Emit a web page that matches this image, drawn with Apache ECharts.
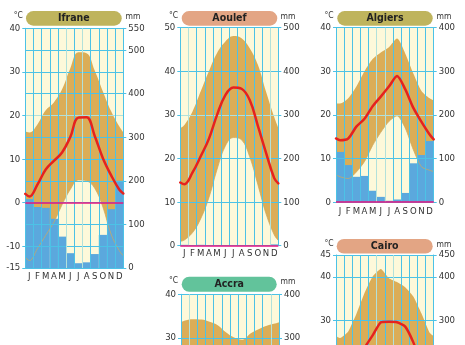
<!DOCTYPE html>
<html>
<head>
<meta charset="utf-8">
<script src="https://cdn.jsdelivr.net/npm/echarts@6/dist/echarts.min.js"></script>
<style>
  html, body { margin: 0; padding: 0; background: #ffffff; }
  #chart { width: 465px; height: 345px; }
</style>
</head>
<body>
<div id="chart"></div>
<script>
// Month initials along the bottom of each diagram
const months = ['J', 'F', 'M', 'A', 'M', 'J', 'J', 'A', 'S', 'O', 'N', 'D'];
// Position of each curve sample in the year: 0 = start of January, 12 = end of December,
// the inner values are the month centres
const yearPos = [0, 0.5, 1.5, 2.5, 3.5, 4.5, 5.5, 6.5, 7.5, 8.5, 9.5, 10.5, 11.5, 12];

// Ifrane — temperatures in °C, precipitation in mm
const ifraneMean = [2.0, 1.4, 4.2, 7.6, 9.6, 11.5, 15.0, 19.5, 19.6, 15.3, 10.2, 6.3, 3.0, 2.1];
const ifraneHigh = [16.4, 16.1, 18.0, 21.2, 23.0, 26.0, 30.8, 34.5, 34.3, 30.3, 25.5, 21.0, 17.5, 16.1];
const ifraneLow = [-12.5, -13.3, -10.5, -7.5, -4.5, -0.5, 3.0, 5.2, 5.0, 3.3, -1.0, -7.2, -11.0, -12.2];
const ifranePrec = [158, 140, 138, 113, 72, 34, 11, 13, 32, 76, 135, 200];
const ifraneTempTicks = [-15, -10, 0, 10, 20, 30, 40];
const ifranePrecTicks = [0, 100, 200, 300, 400, 500, 550];

// Aoulef
const aoulefMean = [14.5, 14.1, 16.8, 20.5, 24.5, 30.0, 34.5, 36.3, 36.0, 33.4, 27.5, 21.3, 15.5, 14.3];
const aoulefHigh = [27.0, 27.7, 30.8, 35.4, 40.0, 44.2, 46.8, 48.1, 47.6, 45.3, 41.5, 35.3, 29.5, 27.0];
const aoulefLow = [1.0, 1.3, 3.0, 6.2, 11.0, 17.5, 22.8, 24.8, 24.3, 20.4, 14.0, 7.3, 2.5, 1.2];
const aoulefPrec = [2, 1, 2, 1, 0.5, 0.2, 0.2, 0.5, 0.5, 1, 1, 3];
const aoulefTempTicks = [0, 10, 20, 30, 40, 50];
const aoulefPrecTicks = [0, 100, 200, 300, 400, 500];

// Algiers
const algiersMean = [14.6, 14.2, 14.6, 17.3, 19.1, 22.0, 24.2, 26.5, 28.9, 25.9, 21.6, 18.4, 15.5, 14.4];
const algiersHigh = [22.6, 22.6, 23.8, 26.5, 30.0, 32.8, 34.3, 35.5, 37.5, 34.1, 29.5, 25.5, 23.8, 23.3];
const algiersLow = [6.3, 5.8, 5.4, 6.9, 9.3, 13.0, 16.0, 18.5, 19.8, 17.0, 12.0, 8.1, 7.3, 7.0];
const algiersPrec = [115, 85, 58, 60, 26, 12, 3, 6, 21, 89, 108, 140];
const algiersTempTicks = [0, 10, 20, 30, 40];
const algiersPrecTicks = [0, 100, 200, 300, 400];

// Accra
const accraHigh = [33.6, 34.0, 34.3, 34.2, 33.7, 32.9, 31.3, 30.1, 29.6, 31.0, 32.0, 32.8, 33.3, 33.6];
const accraTempTicks = [0, 10, 20, 30, 40];
const accraPrecTicks = [0, 100, 200, 300, 400];

// Cairo
const cairoMean = [14.0, 13.8, 15.0, 18.0, 23.7, 26.6, 29.6, 29.7, 29.6, 28.6, 25.0, 20.0, 16.0, 14.2];
const cairoHigh = [26.4, 26.0, 27.5, 31.5, 36.3, 40.1, 41.8, 39.7, 38.8, 37.6, 35.5, 31.6, 27.2, 26.4];
const cairoTempTicks = [0, 10, 20, 30, 40, 45];
const cairoPrecTicks = [0, 100, 200, 300, 400, 450];

const FONT = "'Liberation Sans Narrow', 'DejaVu Sans Condensed', 'Liberation Sans', sans-serif";
const COL = {
  cream: '#fdf9da',
  tan: '#dbad57',
  blue: '#5ba8dd',
  grid: '#4cc2e6',
  pale: '#b2e1da',
  red: '#e5221f',
  magenta: '#e4157f',
  text: '#333333',
  olive: '#bfb45d',
  salmon: '#e3a584',
  green: '#62c39b'
};

const panels = [
  { name: 'Ifrane', badge: COL.olive, left: 25.3, top: 28.3, width: 98, height: 239.7,
    tMin: -15, tMax: 40, tStep: 5, precAtZero: 150,
    tTicks: ifraneTempTicks, pTicks: ifranePrecTicks, paleCols: [5, 7], paleTemp: 20,
    mean: ifraneMean, high: ifraneHigh, low: ifraneLow, prec: ifranePrec, smooth: 0.4,
    showMonths: true, monthMargin: 4 },
  { name: 'Aoulef', badge: COL.salmon, left: 180.3, top: 27.7, width: 98, height: 218,
    tMin: 0, tMax: 50, tStep: 10, precAtZero: 0,
    tTicks: aoulefTempTicks, pTicks: aoulefPrecTicks, paleCols: [1, 11], paleTemp: 30,
    mean: aoulefMean, high: aoulefHigh, low: aoulefLow, prec: aoulefPrec, smooth: 0.4,
    showMonths: true, monthMargin: 3 },
  { name: 'Algiers', badge: COL.olive, left: 336, top: 27.7, width: 97.7, height: 174.4,
    tMin: 0, tMax: 40, tStep: 10, precAtZero: 0,
    tTicks: algiersTempTicks, pTicks: algiersPrecTicks, paleCols: [5, 6], paleTemp: 20,
    mean: algiersMean, high: algiersHigh, low: algiersLow, prec: algiersPrec, smooth: 0.25,
    showMonths: true, monthMargin: 4 },
  { name: 'Accra', badge: COL.green, left: 181, top: 294.3, width: 98, height: 174.4,
    tMin: 0, tMax: 40, tStep: 10, precAtZero: 0,
    tTicks: accraTempTicks, pTicks: accraPrecTicks, paleCols: [1, 11],
    high: accraHigh, smooth: 0.4, showMonths: false },
  { name: 'Cairo', badge: COL.salmon, left: 336, top: 255, width: 97.7, height: 196.6,
    tMin: 0, tMax: 45, tStep: 5, precAtZero: 0,
    tTicks: cairoTempTicks, pTicks: cairoPrecTicks, paleCols: [5, 7],
    mean: cairoMean, high: cairoHigh, smooth: 0.15, showMonths: false }
];

const pairs = vals => vals.map((v, k) => [yearPos[k], v]);

const grids = [], xAxes = [], yAxes = [], series = [], graphics = [];

panels.forEach((p, i) => {
  grids.push({ left: p.left, top: p.top, width: p.width, height: p.height,
    outerBoundsMode: 'none', containLabel: false,
    show: true, backgroundColor: COL.cream, borderWidth: 0 });

  const labelStyle = { color: COL.text, fontSize: 9.5, fontFamily: FONT };

  // vertical rules at the 13 month boundaries, a few drawn in a paler tint
  const colColors = months.concat(['']).map((m, k) => (p.paleCols.indexOf(k) >= 0 ? COL.pale : COL.grid));
  // horizontal rules at the labelled temperatures
  const rowColors = p.tTicks.map(t => (t === p.paleTemp ? COL.pale : COL.grid));

  // month bands: bars, labels and vertical rules
  xAxes.push({ type: 'category', gridIndex: i, data: months, boundaryGap: true, z: 4,
    axisLine: { show: false }, axisTick: { show: false },
    axisLabel: Object.assign({ show: !!p.showMonths, interval: 0, margin: p.monthMargin || 4 }, labelStyle),
    splitLine: { show: true, interval: 0, lineStyle: { color: colColors, width: 1 } } });
  // continuous year axis for the curves
  xAxes.push({ type: 'value', gridIndex: i, min: 0, max: 12, show: false });

  const pMin = p.tMin * 10 + p.precAtZero;
  const pMax = p.tMax * 10 + p.precAtZero;

  yAxes.push({ type: 'value', gridIndex: i, position: 'left', min: p.tMin, max: p.tMax, interval: p.tStep, z: 4,
    axisLine: { show: true, lineStyle: { color: COL.grid, width: 1 } },
    axisTick: { show: true, length: 3, customValues: p.tTicks, lineStyle: { color: COL.grid } },
    axisLabel: Object.assign({ customValues: p.tTicks, margin: 5 }, labelStyle),
    splitLine: { show: true, lineStyle: { color: rowColors, width: 1 } } });
  yAxes.push({ type: 'value', gridIndex: i, position: 'right', min: pMin, max: pMax, interval: p.tStep * 10, z: 4,
    axisLine: { show: true, lineStyle: { color: COL.grid, width: 1 } },
    axisTick: { show: true, length: 3, customValues: p.pTicks, lineStyle: { color: COL.grid } },
    axisLabel: Object.assign({ customValues: p.pTicks, margin: 5 }, labelStyle),
    splitLine: { show: p.precAtZero !== 0, lineStyle: { color: COL.grid, width: 1 } } });

  const xCat = 2 * i, xVal = 2 * i + 1, yT = 2 * i, yP = 2 * i + 1;

  // temperature range band: tan under the high curve, cream under the low curve
  series.push({ type: 'line', name: p.name + ' high', xAxisIndex: xVal, yAxisIndex: yT,
    data: pairs(p.high), smooth: p.smooth, symbol: 'none', silent: true, z: 1,
    lineStyle: { width: 0 }, areaStyle: { color: COL.tan, opacity: 1, origin: 'start' } });
  if (p.low) {
    series.push({ type: 'line', name: p.name + ' low', xAxisIndex: xVal, yAxisIndex: yT,
      data: pairs(p.low), smooth: p.smooth, symbol: 'none', silent: true, z: 1,
      lineStyle: { width: 0 }, areaStyle: { color: COL.cream, opacity: 1, origin: 'start' } });
  }
  if (p.prec) {
    series.push({ type: 'bar', name: p.name + ' precipitation', xAxisIndex: xCat, yAxisIndex: yP,
      data: p.prec, barCategoryGap: '0%', barGap: '0%', silent: true, z: 2,
      itemStyle: { color: COL.blue } });
  }
  if (p.low && p.prec) {
    series.push({ type: 'line', name: p.name + ' low edge', xAxisIndex: xVal, yAxisIndex: yT,
      data: pairs(p.low), smooth: p.smooth, symbol: 'none', silent: true, z: 3,
      lineStyle: { width: 1, color: 'rgba(205,170,95,0.75)' } });
  }
  if (p.mean) {
    series.push({ type: 'line', name: p.name + ' mean', xAxisIndex: xVal, yAxisIndex: yT,
      data: pairs(p.mean), smooth: p.smooth, symbol: 'none', silent: true, z: 6,
      lineStyle: { width: 2.5, color: COL.red, cap: 'round', join: 'round' },
      markLine: { silent: true, symbol: 'none', label: { show: false },
        lineStyle: { color: COL.magenta, width: 1.5, type: 'solid' },
        data: [{ yAxis: 0 }] } });
  }
});

// title pills and unit captions
const badges = [
  { x: 26, y: 11, w: 95.7, h: 14.7, c: 18.5, l: 18.3, r: 133 },
  { x: 181.7, y: 11, w: 95.6, h: 14.7, c: 18.5, l: 173.5, r: 288 },
  { x: 337.3, y: 11, w: 95.4, h: 14.7, c: 18.5, l: 329, r: 444 },
  { x: 181.7, y: 276.7, w: 95, h: 15, c: 284.2, l: 173.5, r: 288 },
  { x: 336.7, y: 239, w: 96, h: 14.5, c: 246.3, l: 329, r: 444 }
];
panels.forEach((p, i) => {
  const b = badges[i];
  graphics.push({ type: 'rect', shape: { x: b.x, y: b.y, width: b.w, height: b.h, r: b.h / 2 },
    style: { fill: p.badge }, silent: true });
  graphics.push({ type: 'text', x: b.x + b.w / 2, y: b.c,
    style: { text: p.name, fill: '#222222', fontSize: 10.5, fontWeight: 'bold', fontFamily: FONT,
      align: 'center', verticalAlign: 'middle' }, silent: true });
  graphics.push({ type: 'text', x: b.l, y: b.c - 3,
    style: { text: '°C', fill: COL.text, fontSize: 8.5, fontFamily: FONT, align: 'center', verticalAlign: 'middle' }, silent: true });
  graphics.push({ type: 'text', x: b.r, y: b.c - 2,
    style: { text: 'mm', fill: COL.text, fontSize: 8.5, fontFamily: FONT, align: 'center', verticalAlign: 'middle' }, silent: true });
});

const chart = echarts.init(document.getElementById('chart'), null, { renderer: 'canvas' });
chart.setOption({
  animation: false,
  backgroundColor: '#ffffff',
  textStyle: { fontFamily: FONT },
  grid: grids,
  xAxis: xAxes,
  yAxis: yAxes,
  series: series,
  graphic: graphics
});
</script>
</body>
</html>
